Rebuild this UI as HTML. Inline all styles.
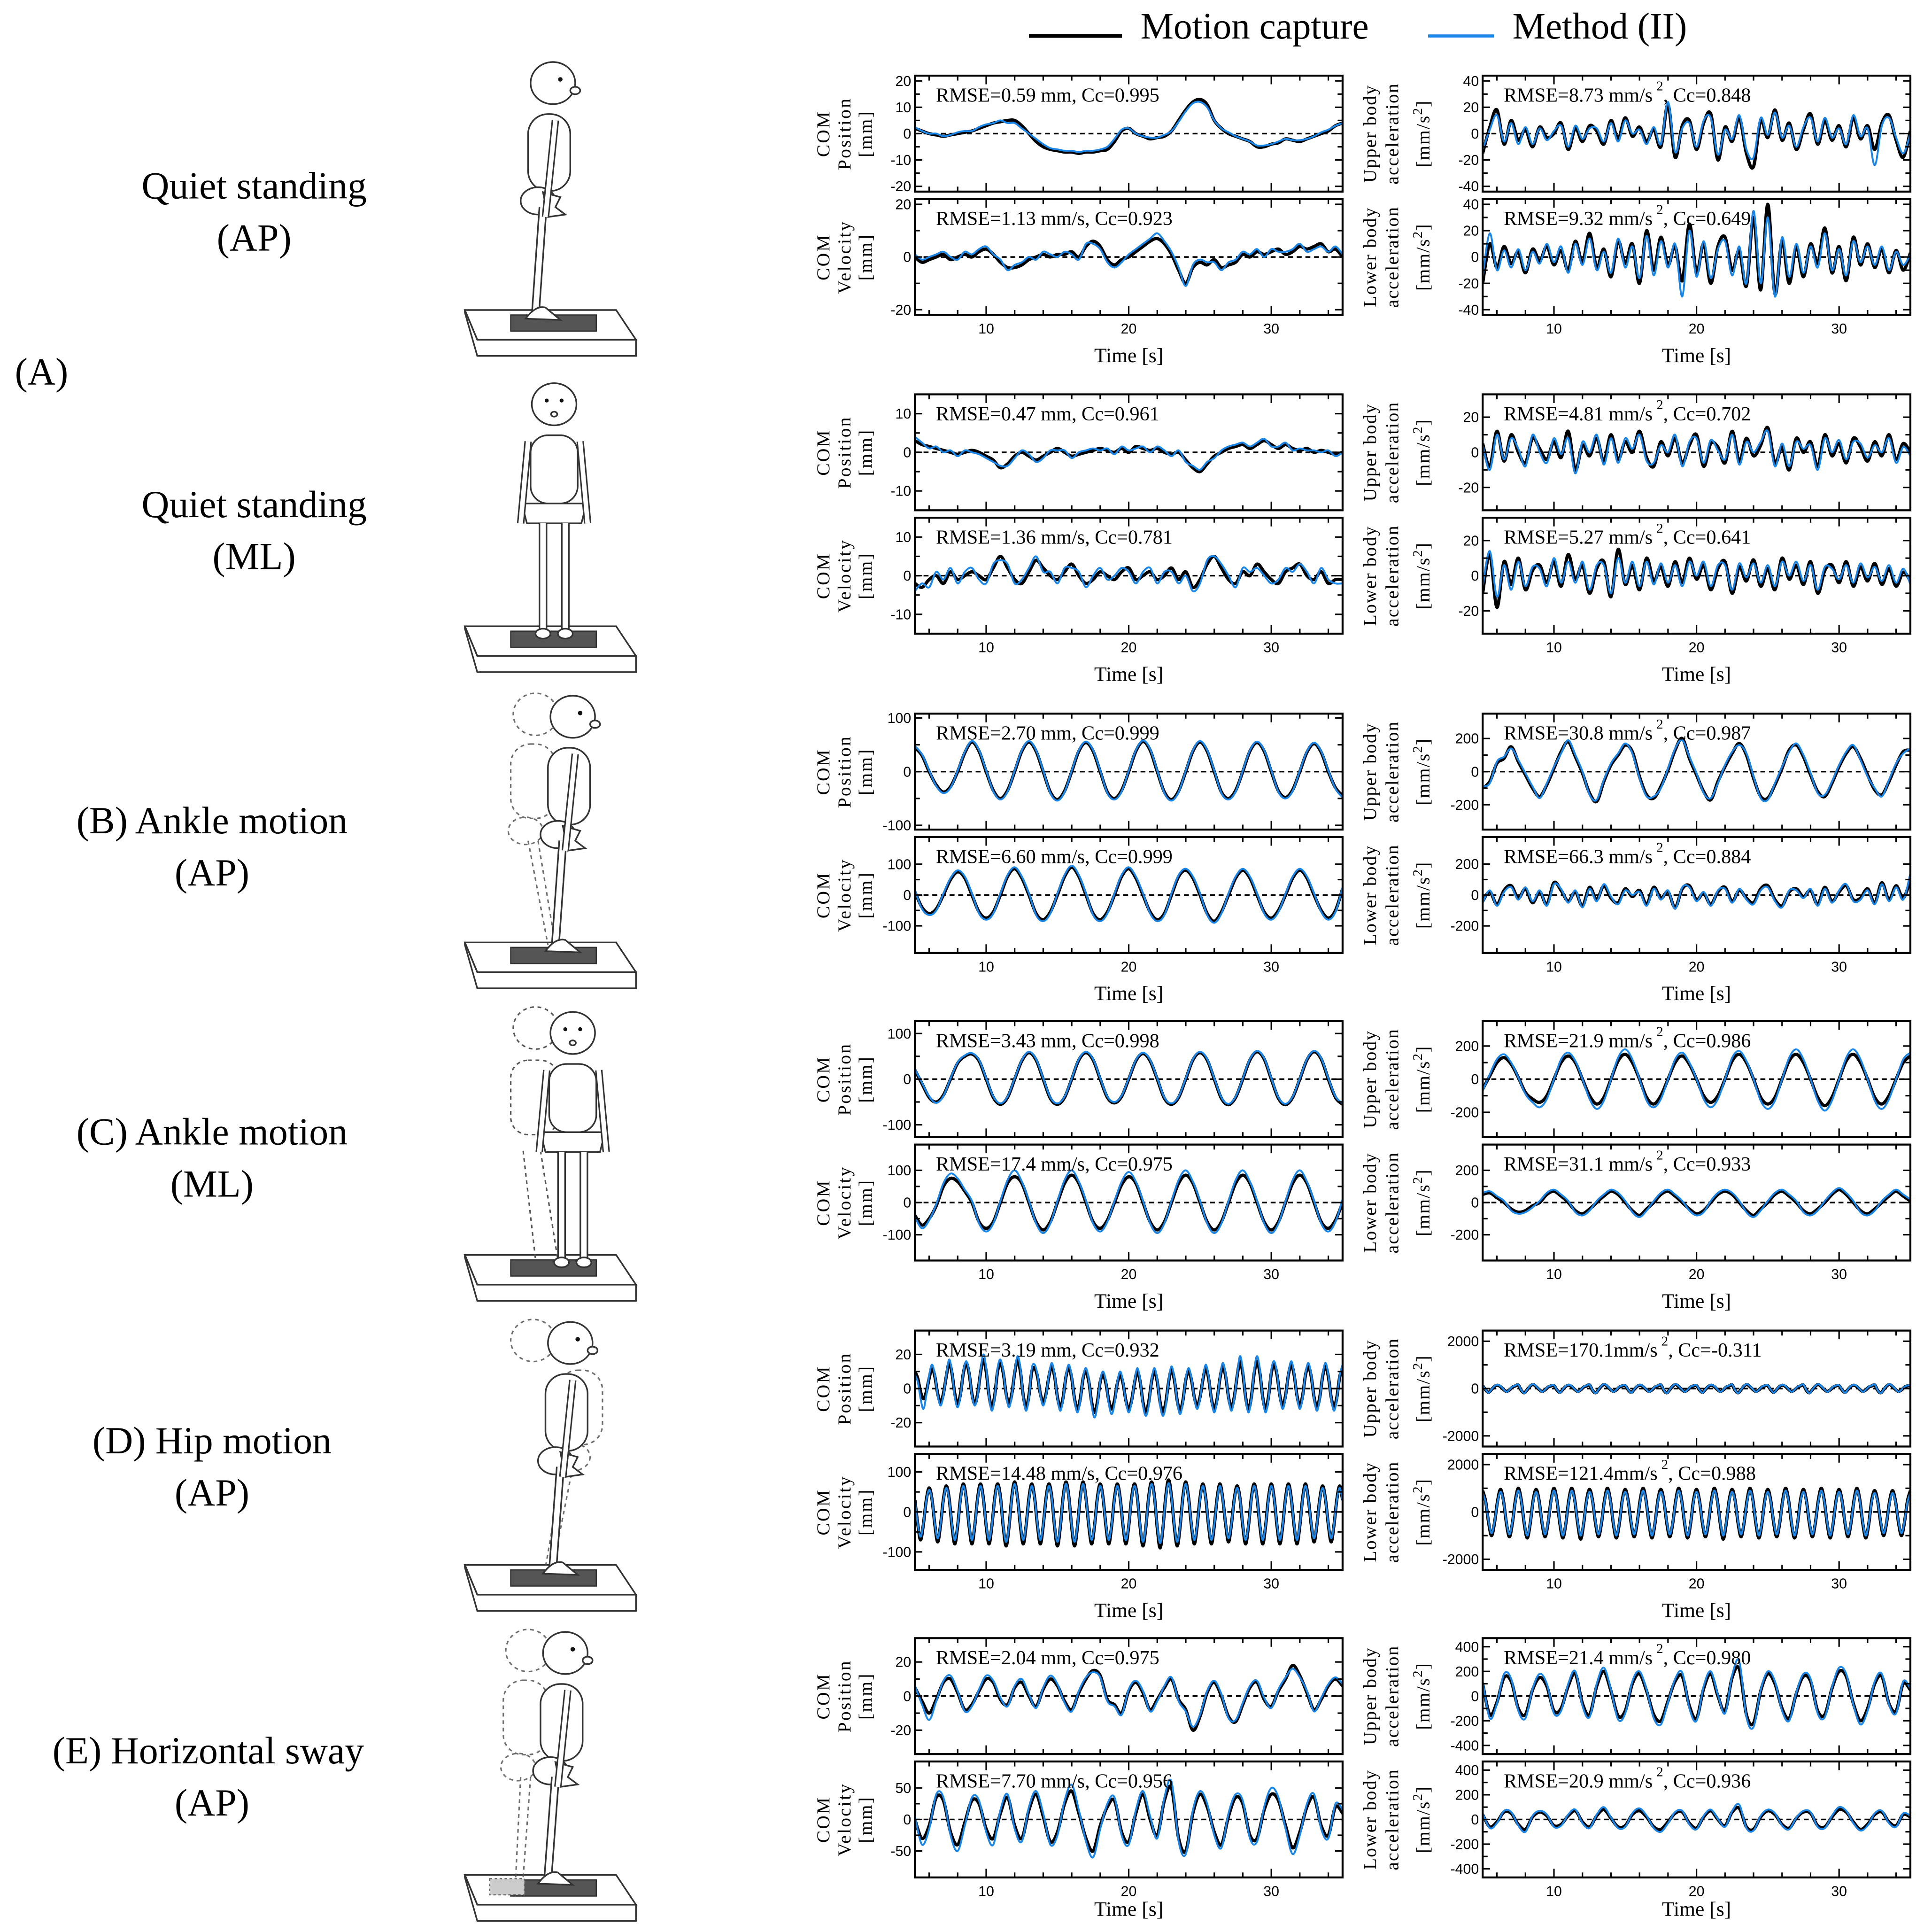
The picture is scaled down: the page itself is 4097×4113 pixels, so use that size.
<!DOCTYPE html>
<html><head><meta charset="utf-8"><style>
html,body{margin:0;padding:0;background:#fff}
svg{display:block}
</style></head><body>
<svg id="fig" xmlns="http://www.w3.org/2000/svg" width="4097" height="4113" viewBox="0 0 1552 1558" preserveAspectRatio="none" font-family="'Liberation Serif', serif">
<rect x="0" y="0" width="1552" height="1558" fill="#fff"/>
<g>
<line x1="830" y1="29" x2="905" y2="29" stroke="#000" stroke-width="3"/>
<text x="920" y="31" font-size="30">Motion capture</text>
<line x1="1152" y1="29" x2="1205" y2="29" stroke="#1a86e8" stroke-width="2.5"/>
<text x="1220" y="31" font-size="30">Method (II)</text>
</g>
<g font-size="31" text-anchor="middle">
<text x="205" y="160">Quiet standing</text>
<text x="205" y="202">(AP)</text>
<text x="12" y="310" text-anchor="start">(A)</text>
<text x="205" y="417">Quiet standing</text>
<text x="205" y="459">(ML)</text>
<text x="171" y="672">(B) Ankle motion</text>
<text x="171" y="714">(AP)</text>
<text x="171" y="923">(C) Ankle motion</text>
<text x="171" y="965">(ML)</text>
<text x="171" y="1172">(D) Hip motion</text>
<text x="171" y="1214">(AP)</text>
<text x="168" y="1422">(E) Horizontal sway</text>
<text x="171" y="1464">(AP)</text>
</g>
<g id="figs"></g>
<g id="charts"></g>
</svg>
<script>
// ---------- data (t = 5..35 s) ----------
const timeTicks = [10, 20, 30];
const g1PosMc = [2,1,0,-0.5,-1,-0.5,0,0.5,1,2,3,4,4.5,5,5,3,0,-3,-5,-6,-6.5,-7,-7,-7.5,-7,-7,-6.5,-6,-3,1,2,0,-1,-2,-1.5,-1,1,5,9,12,13,11,5,2,0,-1,-2,-3,-5,-5,-4,-3.5,-2,-2.5,-3,-2,-1,0,1,3,4];
const g1PosM2 = [2.5,1,0,0,-1,-0.5,0.5,1,1,2.5,3.5,4,5,4,4,2,0,-2,-4,-5.5,-6,-6.5,-6.5,-7,-6.5,-6.5,-6,-5,-2,1.5,2,0,-1,-1.5,-1.5,-0.5,1,4.5,8.5,11.5,12,10,5,2,0.5,-1,-2,-3,-4.5,-4.5,-4,-3,-2,-2.5,-2.5,-2,-1,0.5,1.5,3,4];
const g1VelMc = [0,-2,-1,0,1,-1,0,1,0,2,3,1,-2,-4,-4,-3,-1,0,1,0,1,1,2,0,4,6,4,-1,-3,-1,0,2,4,6,7,5,1,-5,-10,-4,-2,-3,-1,-4,-3,-2,1,0,2,1,2,3,1,2,4,3,4,5,2,3,0];
const g1VelM2 = [1,-1,0,1,2,0,-1,2,1,3,4,1,-1,-5,-3,-2,0,-1,2,1,0,2,1,-1,5,5,3,-2,-4,-2,1,3,5,7,9,6,2,-4,-11,-3,-1,-2,-2,-5,-2,-1,2,1,3,0,3,2,2,3,5,2,3,4,2,4,1];
const g1UpMc = [-15,5,18,-8,10,-5,3,-10,5,-3,0,8,-12,4,-6,6,2,-8,10,-4,12,-2,5,-6,3,-10,22,-18,6,10,-12,8,15,-20,5,-6,12,-15,-25,10,-3,18,-5,8,-12,3,15,-8,10,-5,6,-10,12,-4,6,-12,8,14,-5,-18,2];
const g1UpM2 = [-12,3,14,-6,8,-8,5,-8,4,-5,2,6,-10,6,-4,4,4,-6,8,-6,10,0,3,-8,5,-8,24,-14,4,8,-10,10,12,-16,3,-4,14,-12,-18,12,-1,16,-3,6,-10,5,12,-6,12,-3,4,-8,14,-2,4,-24,6,12,-3,-15,0];
const g1LowMc = [-20,10,-8,8,-5,4,-12,6,-3,8,-6,5,-10,12,-4,18,-8,6,-15,12,-5,10,-20,20,-10,15,-6,8,-18,25,-12,10,-20,8,15,-10,5,-22,30,-25,40,-28,12,-20,8,-15,10,-5,22,-12,8,-18,15,-6,10,-8,6,-12,5,-10,3];
const g1LowM2 = [-15,18,-10,5,-8,6,-10,4,-5,10,-4,8,-12,10,-6,14,-10,4,-12,14,-8,8,-16,16,-14,12,-8,10,-30,20,-15,12,-16,6,12,-14,8,-20,35,-20,30,-30,15,-15,10,-12,8,-8,18,-10,6,-14,12,-4,8,-6,8,-10,4,-6,2];

const g2PosMc = [3,2,1.5,1,0.5,0,-0.5,0,0.5,0,-1,-2,-4,-3,-1,0,-1,-2,-1,0,1,0,-1,-0.5,0,0.5,1,0.5,0,1,0,1.5,1,0.5,1,0,-0.5,0,-2,-4,-5,-3,-1,0,1,1.5,2,1,2,3,2,1,2,1,0.5,1,0,0.5,0,-0.5,0];
const g2PosM2 = [4,2.5,1,1.5,0,0.5,-1,0.5,0,-0.5,-1.5,-2.5,-3.5,-3.5,-1.5,0.5,-0.5,-2.5,-1.5,0.5,0.5,0.5,-1.5,0,0.5,1,0.5,1,-0.5,1.5,0.5,1,1.5,0,1.5,0.5,-1,0.5,-2.5,-3.5,-4.5,-2.5,-1.5,0.5,1.5,2,2.5,1.5,2.5,3.5,1.5,1.5,2.5,0.5,1,0.5,0.5,0,0.5,-1,0];
const g2VelMc = [-2,-3,-1,0,-2,1,-1,0,1,0,-1,2,5,2,-1,-2,1,4,2,0,-1,1,3,0,-2,-1,1,0,-1,1,2,-1,0,1,-1,0,2,-1,1,-3,-1,3,5,2,-1,-2,1,0,3,1,-1,-2,1,2,3,0,-1,1,-2,-1,-1];
const g2VelM2 = [-4,-2,-3,1,-1,2,-2,1,2,-1,-2,3,4,3,-2,-1,2,5,1,1,-2,2,2,1,-3,0,2,-1,0,2,1,-2,1,2,-2,1,1,-2,0,-4,-2,4,5,3,0,-3,2,1,2,0,-2,-1,2,1,3,1,-2,2,-1,-2,-2];
const g2UpMc = [5,-8,12,-5,10,0,-6,8,2,-4,6,-3,12,-10,4,-2,8,-5,10,-4,6,0,12,-3,-8,6,-2,8,-6,4,10,-8,5,3,-6,12,-5,8,-2,4,14,-6,3,-10,8,0,6,-8,10,-2,5,-6,8,3,-5,6,-2,10,-4,5,0];
const g2UpM2 = [4,-10,10,-4,8,2,-8,10,0,-6,8,-1,8,-12,6,0,10,-7,8,-6,8,2,10,-5,-6,4,0,10,-8,6,8,-6,7,1,-4,10,-7,6,0,6,12,-8,5,-8,6,2,4,-10,8,0,7,-4,6,5,-3,4,0,8,-6,3,-2];
const g2LowMc = [-10,12,-18,8,-5,10,-8,3,6,-4,8,-6,12,-2,6,-10,4,8,-12,15,-5,6,-8,10,-3,5,-6,8,-4,10,-2,6,-8,4,8,-10,5,-3,9,-6,4,-8,10,-2,6,-5,8,-10,3,6,-4,8,-6,5,-3,7,-5,4,-6,2,-3];
const g2LowM2 = [-6,14,-12,6,-8,8,-6,5,4,-6,10,-4,8,-4,8,-8,6,6,-10,10,-4,8,-6,8,-5,7,-4,6,-6,8,0,8,-6,6,6,-8,7,-1,7,-4,6,-6,8,0,8,-3,6,-8,5,4,-2,6,-4,7,-1,5,-3,6,-4,4,-5];

const g3PosMc = [45,30,0,-25,-38,-28,0,35,55,38,0,-35,-50,-35,0,38,55,38,0,-38,-52,-36,0,38,54,38,0,-38,-50,-35,0,38,56,40,0,-38,-52,-36,0,38,55,38,0,-38,-50,-35,0,38,54,38,0,-36,-48,-34,0,36,52,36,0,-30,-45];
const g3PosM2 = [48,32,2,-27,-40,-30,2,37,57,40,2,-37,-52,-37,2,40,57,40,2,-40,-54,-38,2,40,56,40,2,-40,-52,-37,2,40,58,42,2,-40,-54,-38,2,40,57,40,2,-40,-52,-37,2,40,56,40,2,-38,-50,-36,2,38,54,38,2,-32,-48];
const g3VelMc = [10,-40,-60,-45,0,50,75,55,0,-55,-75,-55,0,60,85,55,0,-60,-80,-55,0,60,90,60,0,-60,-80,-55,0,60,85,55,0,-55,-80,-60,0,60,80,55,0,-60,-85,-55,0,55,80,55,0,-55,-75,-50,0,55,80,55,0,-50,-75,-50,20];
const g3VelM2 = [15,-45,-65,-50,5,55,80,60,5,-60,-80,-60,5,65,90,60,5,-65,-85,-60,5,65,95,65,5,-65,-85,-60,5,65,90,60,5,-60,-85,-65,5,65,85,60,5,-65,-90,-60,5,60,85,60,5,-60,-80,-55,5,60,85,60,5,-55,-80,-55,25];
const g3UpMc = [-100,-60,50,80,150,60,-20,-100,-150,-80,20,120,180,90,-10,-130,-180,-60,40,100,160,120,-30,-140,-160,-90,10,130,200,80,-20,-120,-170,-60,30,110,170,100,-40,-150,-160,-80,20,130,160,90,-20,-120,-150,-70,30,110,150,80,-20,-110,-140,-60,40,120,130];
const g3UpM2 = [-90,-70,60,90,140,70,-10,-90,-160,-70,30,110,190,100,0,-140,-170,-50,50,110,170,110,-40,-150,-150,-100,20,140,190,90,-10,-130,-160,-70,40,120,160,110,-30,-160,-170,-70,30,120,170,100,-10,-130,-140,-60,40,120,160,70,-30,-100,-150,-50,50,110,140];
const g3LowMc = [-40,20,-60,30,60,-20,40,-50,20,-60,80,30,-40,20,-70,50,-30,60,-20,-50,40,-10,30,-60,50,-20,20,-80,40,60,-30,10,-60,20,50,-40,30,-20,-50,40,60,-30,-70,20,40,-10,30,-60,50,-40,20,60,-30,-20,40,-50,80,-30,60,-20,100];
const g3LowM2 = [-50,30,-70,20,50,-30,50,-40,30,-70,70,40,-50,30,-80,40,-40,70,-10,-60,30,0,20,-70,40,-30,30,-90,50,50,-40,20,-70,30,40,-50,40,-30,-60,30,50,-40,-80,30,30,-20,40,-70,40,-50,30,70,-40,-30,30,-60,70,-40,50,-30,140];

const g4PosMc = [20,-10,-40,-50,-35,0,35,50,55,40,0,-40,-55,-40,0,40,58,42,0,-42,-55,-40,0,42,58,42,0,-40,-52,-38,0,40,56,40,0,-42,-55,-40,0,42,58,42,0,-42,-56,-40,0,42,60,44,0,-42,-56,-40,0,42,60,44,0,-40,-55];
const g4PosM2 = [22,-8,-38,-52,-37,2,37,52,57,42,2,-38,-53,-38,2,42,60,44,2,-40,-53,-38,2,44,60,44,2,-38,-50,-36,2,42,58,42,2,-40,-53,-38,2,44,60,44,2,-40,-54,-38,2,44,62,46,2,-40,-54,-38,2,44,62,46,2,-38,-53];
const g4VelMc = [-40,-70,-50,-10,50,75,65,35,0,-60,-80,-60,0,60,80,60,0,-60,-85,-60,0,60,85,60,0,-60,-80,-55,0,55,80,60,0,-60,-85,-60,0,60,85,60,0,-60,-85,-60,0,60,85,60,0,-60,-85,-60,0,60,85,60,0,-60,-80,-55,0];
const g4VelM2 = [-45,-80,-55,-5,60,90,75,40,5,-65,-90,-65,5,70,100,65,5,-65,-95,-65,5,70,100,65,5,-65,-90,-60,5,65,95,65,5,-65,-95,-65,5,70,100,65,5,-65,-95,-65,5,70,100,65,5,-65,-95,-65,5,70,100,65,5,-65,-90,-60,10];
const g4UpMc = [-60,20,100,130,90,10,-80,-120,-140,-100,0,100,140,100,0,-100,-150,-110,0,110,150,100,0,-110,-150,-100,0,100,140,90,0,-100,-140,-100,0,110,150,100,0,-110,-150,-110,0,110,150,100,0,-110,-160,-110,0,110,150,100,0,-110,-150,-100,0,100,140];
const g4UpM2 = [-70,30,120,150,100,10,-90,-140,-170,-120,0,120,160,110,0,-120,-180,-130,0,130,180,120,0,-130,-170,-120,0,120,160,100,0,-120,-170,-120,0,130,170,110,0,-130,-180,-130,0,130,180,120,0,-130,-190,-130,0,130,180,120,0,-130,-180,-120,0,120,160];
const g4LowMc = [50,60,30,0,-40,-60,-50,-20,0,50,70,40,0,-50,-70,-40,0,40,70,50,0,-50,-80,-40,0,50,70,40,0,-40,-70,-50,0,50,70,50,0,-50,-80,-40,0,50,70,40,0,-50,-70,-40,0,50,80,50,0,-50,-70,-40,0,40,70,40,10];
const g4LowM2 = [60,70,40,10,-50,-70,-60,-30,10,60,80,50,10,-60,-80,-50,10,50,80,60,10,-60,-90,-50,10,60,80,50,10,-50,-80,-60,10,60,80,60,10,-60,-90,-50,10,60,80,50,10,-60,-80,-50,10,60,90,60,10,-60,-80,-50,10,50,80,50,20];

const g5PosMc = [10,6,-2,-6,-2,6,12,7,-3,-8,-3,7,15,9,-3,-9,-3,9,15,9,-3,-9,-3,9,17,10,-4,-11,-4,10,15,9,-3,-9,-3,9,17,10,-4,-11,-4,10,12,7,-3,-8,-3,7,13,7,-5,-11,-5,7,12,6,-6,-12,-6,6,10,4,-8,-14,-8,4,8,3,-7,-12,-7,3,8,3,-7,-12,-7,3,10,4,-8,-14,-8,4,10,4,-8,-14,-8,4,11,5,-7,-13,-7,5,10,5,-5,-10,-5,5,12,6,-6,-12,-6,6,13,7,-5,-11,-5,7,16,9,-5,-12,-5,9,16,9,-5,-12,-5,9,14,8,-4,-10,-4,8,14,8,-4,-10,-4,8,13,7,-5,-11,-5,7,13,7,-5,-11,-5,7,12];
const g5PosM2 = [8,4,-6,-12,-4,8,14,8,-4,-10,-4,8,17,10,-5,-11,-4,10,16,10,-4,-10,-4,10,20,12,-5,-13,-5,12,17,10,-4,-11,-4,10,19,12,-5,-13,-5,12,14,8,-4,-10,-4,8,15,8,-6,-13,-6,8,14,7,-7,-14,-7,7,12,5,-10,-17,-10,5,10,4,-9,-15,-9,4,10,4,-8,-14,-8,4,12,5,-10,-16,-10,5,12,5,-10,-16,-10,5,13,6,-8,-15,-8,6,12,6,-6,-12,-6,6,14,7,-7,-14,-7,7,15,8,-6,-13,-6,8,19,11,-6,-14,-6,11,19,11,-6,-14,-6,11,16,9,-5,-12,-5,9,16,9,-5,-12,-5,9,15,8,-6,-13,-6,8,15,8,-6,-13,-6,8,14];
const g5VelMc = [30,-30,-70,-30,30,60,32,-32,-75,-32,32,65,35,-35,-80,-35,35,70,35,-35,-80,-35,35,70,35,-35,-80,-35,35,70,38,-38,-85,-38,38,75,35,-35,-80,-35,35,70,35,-35,-80,-35,35,70,38,-38,-85,-38,38,75,38,-38,-85,-38,38,75,35,-35,-80,-35,35,70,35,-35,-80,-35,35,70,35,-35,-80,-35,35,70,38,-38,-85,-38,38,75,40,-40,-90,-40,40,80,38,-38,-85,-38,38,75,35,-35,-80,-35,35,70,35,-35,-80,-35,35,70,32,-32,-75,-32,32,65,35,-35,-80,-35,35,70,35,-35,-80,-35,35,70,35,-35,-80,-35,35,70,35,-35,-80,-35,35,70,32,-32,-75,-32,32,65,32,-32,-75,-32,32,65,30];
const g5VelM2 = [28,-30,-62,-28,28,55,30,-30,-66,-30,30,60,32,-32,-70,-32,32,65,32,-32,-70,-32,32,65,32,-32,-70,-32,32,65,35,-35,-75,-35,35,70,32,-32,-70,-32,32,65,32,-32,-70,-32,32,65,35,-35,-75,-35,35,70,35,-35,-75,-35,35,70,32,-32,-70,-32,32,65,32,-32,-70,-32,32,65,32,-32,-70,-32,32,65,35,-35,-75,-35,35,70,36,-36,-78,-36,36,72,35,-35,-75,-35,35,70,32,-32,-70,-32,32,65,32,-32,-70,-32,32,65,30,-30,-66,-30,30,60,32,-32,-70,-32,32,65,32,-32,-70,-32,32,65,32,-32,-70,-32,32,65,32,-32,-70,-32,32,65,30,-30,-66,-30,30,60,30,-30,-66,-30,30,60,28];
const g5UpMc = [120,-60,-160,-40,90,140,80,-40,-120,-60,60,110,150,-80,-180,-50,100,170,80,-40,-120,-60,60,110,120,-60,-160,-40,90,140,80,-40,-120,-60,60,110,150,-80,-180,-50,100,170,80,-40,-120,-60,60,110,120,-60,-160,-40,90,140,80,-40,-120,-60,60,110,150,-80,-180,-50,100,170,80,-40,-120,-60,60,110,120,-60,-160,-40,90,140,80,-40,-120,-60,60,110,150,-80,-180,-50,100,170,80,-40,-120,-60,60,110,120,-60,-160,-40,90,140,80,-40,-120,-60,60,110,150,-80,-180,-50,100,170,80,-40,-120,-60,60,110,120,-60,-160,-40,90,140,80,-40,-120,-60,60,110,150,-80,-180,-50,100,170,80,-40,-120,-60,60,110,120];
const g5UpM2 = [140,-50,-180,-30,110,160,100,-30,-140,-50,80,130,170,-70,-200,-40,120,190,100,-30,-140,-50,80,130,140,-50,-180,-30,110,160,100,-30,-140,-50,80,130,170,-70,-200,-40,120,190,100,-30,-140,-50,80,130,140,-50,-180,-30,110,160,100,-30,-140,-50,80,130,170,-70,-200,-40,120,190,100,-30,-140,-50,80,130,140,-50,-180,-30,110,160,100,-30,-140,-50,80,130,170,-70,-200,-40,120,190,100,-30,-140,-50,80,130,140,-50,-180,-30,110,160,100,-30,-140,-50,80,130,170,-70,-200,-40,120,190,100,-30,-140,-50,80,130,140,-50,-180,-30,110,160,100,-30,-140,-50,80,130,170,-70,-200,-40,120,190,100,-30,-140,-50,80,130,140];
const g5LowMc = [900,450,-450,-1000,-450,450,950,480,-480,-1050,-480,480,1000,500,-500,-1100,-500,500,950,480,-480,-1050,-480,480,1000,500,-500,-1100,-500,500,1000,500,-500,-1150,-500,500,950,480,-480,-1050,-480,480,1000,500,-500,-1100,-500,500,950,480,-480,-1050,-480,480,1000,500,-500,-1100,-500,500,950,480,-480,-1050,-480,480,1000,500,-500,-1100,-500,500,950,480,-480,-1050,-480,480,1000,500,-500,-1150,-500,500,950,480,-480,-1050,-480,480,1000,500,-500,-1100,-500,500,950,480,-480,-1050,-480,480,1000,500,-500,-1100,-500,500,950,480,-480,-1050,-480,480,1000,500,-500,-1100,-500,500,950,480,-480,-1050,-480,480,1000,500,-500,-1100,-500,500,900,450,-450,-1000,-450,450,900,450,-450,-1000,-450,450,900];
const g5LowM2 = [800,400,-400,-900,-400,400,850,430,-430,-950,-430,430,900,450,-450,-1000,-450,450,850,430,-430,-950,-430,430,900,450,-450,-1000,-450,450,900,450,-450,-1000,-450,450,850,430,-430,-950,-430,430,900,450,-450,-1000,-450,450,850,430,-430,-950,-430,430,900,450,-450,-1000,-450,450,850,430,-430,-950,-430,430,900,450,-450,-1000,-450,450,850,430,-430,-950,-430,430,900,450,-450,-1000,-450,450,850,430,-430,-950,-430,430,900,450,-450,-1000,-450,450,850,430,-430,-950,-430,430,900,450,-450,-1000,-450,450,850,430,-430,-950,-430,430,900,450,-450,-1000,-450,450,850,430,-430,-950,-430,430,900,450,-450,-1000,-450,450,800,400,-400,-900,-400,400,800,400,-400,-900,-400,400,800];

const g6PosMc = [5,-3,-10,-2,8,10,2,-8,-5,3,10,8,-2,-5,5,8,0,-6,4,10,6,-3,-8,2,10,15,12,-2,-5,-10,3,8,2,-8,-2,5,10,-2,-8,-20,-12,2,8,0,-12,-15,-5,5,8,-2,-6,3,10,18,12,2,-8,-2,6,10,6];
const g6PosM2 = [6,-5,-14,-3,9,12,3,-9,-6,4,12,9,-1,-6,6,10,1,-7,5,12,7,-4,-9,3,11,14,11,-3,-6,-11,4,9,3,-9,-3,6,11,-3,-9,-18,-11,3,9,1,-13,-14,-4,6,9,-1,-7,4,11,16,11,3,-9,-1,7,11,7];
const g6VelMc = [0,-30,-10,35,30,-20,-40,-5,30,25,-15,-30,10,35,-10,-30,15,40,5,-35,-20,25,45,10,-30,-50,-10,20,30,-20,-35,10,40,0,-25,30,50,-30,-50,10,40,20,-20,-40,5,35,25,-25,-30,15,40,30,-10,-45,-20,20,35,-10,-25,20,10];
const g6VelM2 = [5,-40,-15,40,35,-25,-50,-10,35,30,-20,-40,15,40,-15,-35,20,45,10,-40,-25,30,55,15,-35,-60,-15,25,35,-25,-40,15,45,5,-30,35,60,-35,-55,15,45,25,-25,-45,10,40,30,-30,-35,20,50,35,-15,-55,-25,25,40,-15,-30,25,15];
const g6UpMc = [100,-150,-50,150,120,-100,-150,50,150,80,-120,-100,80,180,-60,-150,80,200,40,-160,-120,100,180,40,-150,-200,-40,120,160,-80,-180,60,180,0,-120,150,220,-150,-220,40,180,100,-100,-180,20,160,120,-120,-150,60,200,160,-60,-200,-100,100,160,-60,-120,100,50];
const g6UpM2 = [120,-180,-60,180,140,-120,-180,60,180,100,-140,-120,100,200,-80,-170,100,230,50,-190,-140,120,200,50,-180,-230,-50,140,190,-100,-200,80,200,10,-140,170,280,-170,-250,50,200,120,-120,-200,30,180,140,-140,-170,70,230,180,-70,-230,-120,120,180,-70,-140,120,60];
const g6LowMc = [40,-60,-20,60,50,-40,-80,20,60,30,-50,-40,30,70,-20,-60,30,80,10,-60,-50,40,70,20,-60,-80,-20,50,60,-30,-70,20,70,0,-50,60,90,-60,-80,20,70,40,-40,-70,10,60,50,-50,-60,20,80,60,-20,-80,-40,40,60,-20,-50,40,20];
const g6LowM2 = [50,-70,-30,70,60,-50,-100,30,70,40,-60,-50,40,80,-30,-70,40,100,15,-70,-60,50,90,30,-70,-100,-30,60,70,-40,-80,30,80,5,-60,70,120,-70,-90,30,80,50,-50,-80,15,70,60,-60,-70,30,100,70,-30,-90,-50,50,70,-30,-60,50,30];

const annots = ["RMSE=0.59 mm, Cc=0.995","RMSE=1.13 mm/s, Cc=0.923","RMSE=8.73 mm/s|, Cc=0.848","RMSE=9.32 mm/s|, Cc=0.649",
"RMSE=0.47 mm, Cc=0.961","RMSE=1.36 mm/s, Cc=0.781","RMSE=4.81 mm/s|, Cc=0.702","RMSE=5.27 mm/s|, Cc=0.641",
"RMSE=2.70 mm, Cc=0.999","RMSE=6.60 mm/s, Cc=0.999","RMSE=30.8 mm/s|, Cc=0.987","RMSE=66.3 mm/s|, Cc=0.884",
"RMSE=3.43 mm, Cc=0.998","RMSE=17.4 mm/s, Cc=0.975","RMSE=21.9 mm/s|, Cc=0.986","RMSE=31.1 mm/s|, Cc=0.933",
"RMSE=3.19 mm, Cc=0.932","RMSE=14.48 mm/s, Cc=0.976","RMSE=170.1mm/s|, Cc=-0.311","RMSE=121.4mm/s|, Cc=0.988",
"RMSE=2.04 mm, Cc=0.975","RMSE=7.70 mm/s, Cc=0.956","RMSE=21.4 mm/s|, Cc=0.980","RMSE=20.9 mm/s|, Cc=0.936"];

// ---------- drawing ----------
const NS = "http://www.w3.org/2000/svg";
function el(tag, attrs, parent){ const e=document.createElementNS(NS,tag); for(const k in attrs) e.setAttribute(k,attrs[k]); parent.appendChild(e); return e; }
const chartsG = document.getElementById('charts');
const T0=5, T1=35, W=345, H=93.5;

function smoothPath(pts){
  let d = "M"+pts[0][0].toFixed(2)+","+pts[0][1].toFixed(2);
  for(let i=0;i<pts.length-1;i++){
    const p0=pts[Math.max(0,i-1)], p1=pts[i], p2=pts[i+1], p3=pts[Math.min(pts.length-1,i+2)];
    const c1x=p1[0]+(p2[0]-p0[0])/6, c1y=p1[1]+(p2[1]-p0[1])/6;
    const c2x=p2[0]-(p3[0]-p1[0])/6, c2y=p2[1]-(p3[1]-p1[1])/6;
    d+=" C"+c1x.toFixed(2)+","+c1y.toFixed(2)+" "+c2x.toFixed(2)+","+c2y.toFixed(2)+" "+p2[0].toFixed(2)+","+p2[1].toFixed(2);
  }
  return d;
}

function chart(name, x0, y0, ymax, labTicks, minTicks, mc, m2, annot, ylab, isRight, showX, timeOff){
  const g = el('g',{},chartsG);
  
  
  const xs = t => x0 + (t-T0)/(T1-T0)*W;
  const ys = v => y0 + H/2 - v/ymax*(H/2);
  const clip = el('clipPath',{id:'c-'+name},g);
  el('rect',{x:x0,y:y0,width:W,height:H},clip);
  const z = el('line',{x1:x0,x2:x0+W,y1:ys(0),y2:ys(0),stroke:'#000','stroke-width':1.3,'stroke-dasharray':'4 3'},g);
  
  
  const mk = (arr, color, sw, sname) => {
    const n = arr.length;
    const pts = arr.map((v,i)=>[xs(T0+i*(T1-T0)/(n-1)), ys(v)]);
    const p = el('path',{d:smoothPath(pts),fill:'none',stroke:color,'stroke-width':sw,'stroke-linejoin':'round','clip-path':'url(#c-'+name+')'},g);
    
    
  };
  mk(mc,'#000',2.6,name+'-motion-capture-line');
  mk(m2,'#1a86e8',1.5,name+'-method-line');
  const fr = el('rect',{x:x0,y:y0,width:W,height:H,fill:'none',stroke:'#000','stroke-width':1.6},g);
  
  
  for(let t=6;t<=34;t+=2){
    const L = (t%10===0)?7:4;
    el('line',{x1:xs(t),x2:xs(t),y1:y0+H,y2:y0+H-L,stroke:'#000','stroke-width':1.2},g);
    el('line',{x1:xs(t),x2:xs(t),y1:y0,y2:y0+L,stroke:'#000','stroke-width':1.2},g);
  }
  labTicks.forEach(v=>{
    el('line',{x1:x0,x2:x0+6,y1:ys(v),y2:ys(v),stroke:'#000','stroke-width':1.2},g);
    el('line',{x1:x0+W,x2:x0+W-6,y1:ys(v),y2:ys(v),stroke:'#000','stroke-width':1.2},g);
    const tl = el('text',{x:x0-3,y:ys(v)+4,'text-anchor':'end','font-size':11.5,'font-family':"'Liberation Sans', sans-serif"},g);
    tl.textContent = String(v);
    
    
  });
  minTicks.forEach(v=>{
    el('line',{x1:x0,x2:x0+4,y1:ys(v),y2:ys(v),stroke:'#000','stroke-width':1.2},g);
    el('line',{x1:x0+W,x2:x0+W-4,y1:ys(v),y2:ys(v),stroke:'#000','stroke-width':1.2},g);
  });
  const a = el('text',{x:x0+17,y:y0+21,'font-size':16},g);
  
  
  const parts = annot.split('|');
  a.appendChild(document.createTextNode(parts[0]));
  if(parts.length>1){
    const s = el('tspan',{dy:-9,'font-size':11,dx:3},a); s.textContent='2';
    const r = el('tspan',{dy:9},a); r.textContent=parts[1];
  }
  const cy = y0+H/2;
  const offs = isRight ? [-91,-73,-48] : [-74,-57,-40];
  ylab.forEach((s,i)=>{
    const tx = el('text',{x:0,y:0,'font-size':15,'text-anchor':'middle','letter-spacing':isRight?0.8:1.2,transform:'translate('+(x0+offs[i]+5)+','+cy+') rotate(-90)'},g);
    
    
    if(s.indexOf('^')>=0){ const p=s.split('^'); tx.appendChild(document.createTextNode(p[0])); const sp=el('tspan',{dy:-6,'font-size':11},tx); sp.textContent='2'; const sr=el('tspan',{dy:6},tx); sr.textContent=p[1]; }
    else tx.textContent=s;
  });
  if(showX){
    timeTicks.forEach(t=>{
      const tl = el('text',{x:xs(t),y:y0+H+15,'text-anchor':'middle','font-size':11.5,'font-family':"'Liberation Sans', sans-serif"},g);
      tl.textContent=String(t);
      
      
    });
    const xt = el('text',{x:x0+W/2,y:y0+H+timeOff,'text-anchor':'middle','font-size':16.5},g);
    xt.textContent='Time [s]';
    
    
  }
}

const tops=[61,318,575.5,823.5,1073,1321];
const LP=['COM','Position','[mm]'], LV=['COM','Velocity','[mm]'];
const LU=['Upper body','acceleration','[mm/s^]'], LL=['Lower body','acceleration','[mm/s^]'];
const cfg = [
 [[22,[-20,-10,0,10,20],[-15,-5,5,15],g1PosMc,g1PosM2],[22,[-20,0,20],[-10,10],g1VelMc,g1VelM2],[44,[-40,-20,0,20,40],[-30,-10,10,30],g1UpMc,g1UpM2],[44,[-40,-20,0,20,40],[-30,-10,10,30],g1LowMc,g1LowM2]],
 [[15,[-10,0,10],[-5,5],g2PosMc,g2PosM2],[15,[-10,0,10],[-5,5],g2VelMc,g2VelM2],[33,[-20,0,20],[-10,10],g2UpMc,g2UpM2],[33,[-20,0,20],[-10,10],g2LowMc,g2LowM2]],
 [[108,[-100,0,100],[-50,50],g3PosMc,g3PosM2],[188,[-100,0,100],[-50,50],g3VelMc,g3VelM2],[350,[-200,0,200],[-100,100],g3UpMc,g3UpM2],[375,[-200,0,200],[-100,100],g3LowMc,g3LowM2]],
 [[127,[-100,0,100],[-50,50],g4PosMc,g4PosM2],[180,[-100,0,100],[-50,50],g4VelMc,g4VelM2],[350,[-200,0,200],[-100,100],g4UpMc,g4UpM2],[360,[-200,0,200],[-100,100],g4LowMc,g4LowM2]],
 [[34,[-20,0,20],[-10,10],g5PosMc,g5PosM2],[145,[-100,0,100],[-50,50],g5VelMc,g5VelM2],[2450,[-2000,0,2000],[-1000,1000],g5UpMc,g5UpM2],[2450,[-2000,0,2000],[-1000,1000],g5LowMc,g5LowM2]],
 [[34,[-20,0,20],[-10,10],g6PosMc,g6PosM2],[92,[-50,0,50],[-25,25],g6VelMc,g6VelM2],[470,[-400,-200,0,200,400],[-300,-100,100,300],g6UpMc,g6UpM2],[470,[-400,-200,0,200,400],[-300,-100,100,300],g6LowMc,g6LowM2]]
];
const kinds=['com-position','com-velocity','upper-body-acceleration','lower-body-acceleration'];
cfg.forEach((row,gi)=>{
  row.forEach((c,k)=>{
    const isRight = k>=2, bottom = (k%2===1);
    const x0 = isRight?1196:738;
    const y0 = tops[gi] + (bottom? 99.5 : 0);
    chart('row'+(gi+1)+'-'+kinds[k], x0, y0, c[0], c[1], c[2], c[3], c[4], annots[gi*4+k], [LP,LV,LU,LL][k], isRight, bottom, gi===5?31:38);
  });
});

// ---------- stick figures ----------
const figsG = document.getElementById('figs');
const heads=[[446,67],[447,326],[462,578],[462,833],[460,1083],[456,1333]];
const plats=[250,505,760,1012,1262,1512];
function platform(gi, py){
  const g = el('g',{},figsG);
  
  
  el('polygon',{points:`375,${py} 497,${py} 513,${py+24} 385,${py+24}`,fill:'#fff',stroke:'#333','stroke-width':1.3},g);
  el('polygon',{points:`385,${py+24} 513,${py+24} 513,${py+37} 385,${py+37} 375,${py+2} 375,${py}`,fill:'#fff',stroke:'#333','stroke-width':1.3},g);
  el('line',{x1:375,y1:py,x2:385,y2:py+24,stroke:'#333','stroke-width':1.2},g);
  el('rect',{x:412,y:py+4,width:69,height:13,fill:'#555',stroke:'#333','stroke-width':1},g);
  if(gi===5) el('rect',{x:395,y:py+3,width:28,height:13,fill:'#ccc',stroke:'#666','stroke-width':1,'stroke-dasharray':'2 2'},g);
}
function sideFig(g, hx, hy, py, dash){
  const st = {fill:'#fff',stroke:'#333','stroke-width':1.3};
  if(dash) st['stroke-dasharray']='3 3';
  el('ellipse',Object.assign({cx:hx,cy:hy,rx:18,ry:17},st),g);
  if(!dash) el('ellipse',Object.assign({cx:hx+18,cy:hy+6,rx:4,ry:3},st),g);
  el('circle',{cx:hx+6,cy:hy-3,r:1.8,fill:'#111'},g);
  el('rect',Object.assign({x:hx-20,y:hy+25,width:34,height:62,rx:16},st),g);
  el('ellipse',Object.assign({cx:hx-12,cy:hy+95,rx:14,ry:11},st),g);
  el('polygon',Object.assign({points:`${hx-8},${hy+88} ${hx+6},${hy+92} ${hx+2},${hy+100} ${hx+10},${hy+106} ${hx-4},${hy+108}`},st),g);
  el('line',Object.assign({x1:hx-8,y1:hy+100,x2:hx-14,y2:py+2},st,{'stroke-width':7,stroke:'#333'}),g);
  el('line',{x1:hx-8,y1:hy+100,x2:hx-14,y2:py+2,stroke:'#fff','stroke-width':4.4},g);
  el('line',Object.assign({x1:hx+2,y1:hy+30,x2:hx-6,y2:hy+108},st,{'stroke-width':6,stroke:'#333'}),g);
  el('line',{x1:hx+2,y1:hy+30,x2:hx-6,y2:hy+108,stroke:'#fff','stroke-width':3.6},g);
  if(!dash) el('path',Object.assign({d:`M${hx-22},${py+7} Q${hx-14},${py-4} ${hx-6},${py-2} L${hx+6},${py+8} Z`},st),g);
}
function frontFig(g, hx, hy, py){
  const st = {fill:'#fff',stroke:'#333','stroke-width':1.3};
  el('ellipse',Object.assign({cx:hx,cy:hy,rx:18,ry:17},st),g);
  el('circle',{cx:hx-6,cy:hy-3,r:1.6,fill:'#111'},g);
  el('circle',{cx:hx+6,cy:hy-3,r:1.6,fill:'#111'},g);
  el('ellipse',Object.assign({cx:hx,cy:hy+8,rx:2.5,ry:2},st),g);
  el('rect',Object.assign({x:hx-19,y:hy+25,width:38,height:55,rx:14},st),g);
  el('path',Object.assign({d:`M${hx-26},${hy+80} L${hx+26},${hy+80} L${hx+22},${hy+96} L${hx-22},${hy+96} Z`},st),g);
  [[-21,-27],[21,27]].forEach(a=>{
    el('line',{x1:hx+a[0],y1:hy+30,x2:hx+a[1],y2:hy+96,stroke:'#333','stroke-width':6},g);
    el('line',{x1:hx+a[0],y1:hy+30,x2:hx+a[1],y2:hy+96,stroke:'#fff','stroke-width':3.6},g);
  });
  [-9,9].forEach(dx=>{
    el('line',{x1:hx+dx,y1:hy+96,x2:hx+dx,y2:py+4,stroke:'#333','stroke-width':7},g);
    el('line',{x1:hx+dx,y1:hy+96,x2:hx+dx,y2:py+4,stroke:'#fff','stroke-width':4.4},g);
    el('ellipse',Object.assign({cx:hx+dx,cy:py+6,rx:6,ry:4},st),g);
  });
}
heads.forEach((h,gi)=>{
  const py = plats[gi];
  platform(gi, py);
  const g = el('g',{},figsG);
  
  
  if(gi===1){ frontFig(g,h[0],h[1],py); return; }
  if(gi===3){
    const gg = el('g',{},g);
    
    
    el('ellipse',{cx:h[0]-30,cy:h[1]-4,rx:18,ry:17,fill:'none',stroke:'#555','stroke-width':1.2,'stroke-dasharray':'3 3'},gg);
    el('rect',{x:h[0]-50,y:h[1]+22,width:38,height:60,rx:14,fill:'none',stroke:'#555','stroke-width':1.2,'stroke-dasharray':'3 3'},gg);
    el('line',{x1:h[0]-40,y1:h[1]+95,x2:h[0]-30,y2:py+4,stroke:'#555','stroke-width':1.2,'stroke-dasharray':'3 3'},gg);
    el('line',{x1:h[0]-26,y1:h[1]+95,x2:h[0]-12,y2:py+4,stroke:'#555','stroke-width':1.2,'stroke-dasharray':'3 3'},gg);
    frontFig(g,h[0],h[1],py); return;
  }
  if(gi>=2){
    const gg = el('g',{opacity:0.85},g);
    
    
    el('ellipse',{cx:h[0]-30,cy:h[1]-2,rx:18,ry:17,fill:'none',stroke:'#555','stroke-width':1.2,'stroke-dasharray':'3 3'},gg);
    el('rect',{x:h[0]-50+(gi===4?40:0),y:h[1]+22,width:36,height:60,rx:16,fill:'none',stroke:'#555','stroke-width':1.2,'stroke-dasharray':'3 3'},gg);
    el('ellipse',{cx:h[0]-38+(gi===4?40:0),cy:h[1]+92,rx:14,ry:11,fill:'none',stroke:'#555','stroke-width':1.2,'stroke-dasharray':'3 3'},gg);
    el('line',{x1:h[0]-36+(gi===4?30:0),y1:h[1]+100,x2:h[0]-20+(gi===5?-20:0),y2:py+2,stroke:'#555','stroke-width':1.2,'stroke-dasharray':'3 3'},gg);
    el('line',{x1:h[0]-28+(gi===4?30:0),y1:h[1]+100,x2:h[0]-14+(gi===5?-20:0),y2:py+2,stroke:'#555','stroke-width':1.2,'stroke-dasharray':'3 3'},gg);
  }
  sideFig(g,h[0],h[1],py,false);
});
</script>
</body></html>
